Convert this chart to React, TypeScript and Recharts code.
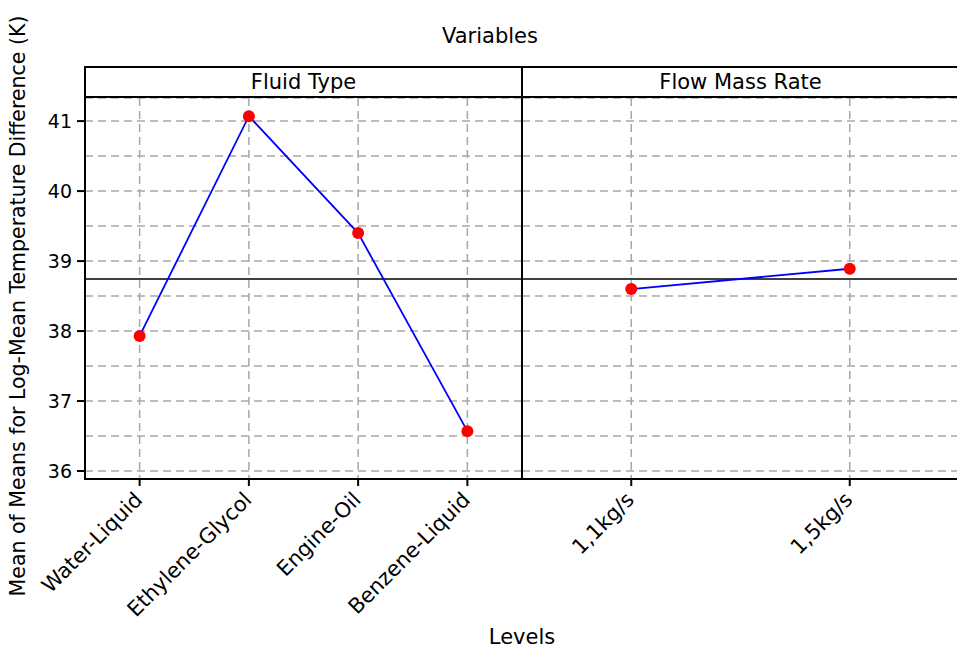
import React from "react";
import { CartesianGrid, Line, LineChart, ReferenceLine, XAxis, YAxis } from "recharts";

const fluidTypes = ["Water-Liquid", "Ethylene-Glycol", "Engine-Oil", "Benzene-Liquid"];
const fluidMeans = [37.93, 41.07, 39.4, 36.57];
const flowRates = ["1,1kg/s", "1,5kg/s"];
const flowMeans = [38.6, 38.89];
const majorTicks = [36, 37, 38, 39, 40, 41];
const minorTicks = [36.5, 37.5, 38.5, 39.5, 40.5];

const grandMean = fluidMeans.reduce((a, b) => a + b, 0) / fluidMeans.length;

const FONT = "DejaVu Sans, sans-serif";
const Y_DOMAIN = [35.886, 41.33];
const GRID = "#a8a8a8";

const fluidData = fluidTypes.map((name, i) => ({ idx: i + 1, name, mean: fluidMeans[i] }));
const flowData = flowRates.map((name, i) => ({ idx: i + 1, name, mean: flowMeans[i] }));

function AngledTick({ x, y, payload, labels }: any) {
  const label = labels[payload.value - 1];
  const ax = x + 4;
  const ay = y + 13;
  return (
    <text
      x={ax}
      y={ay}
      transform={`rotate(-45 ${ax} ${ay})`}
      textAnchor="end"
      fill="#000"
      fontSize={21}
      fontFamily={FONT}
    >
      {label}
    </text>
  );
}

function Panel({ data, labels, showY, width, left }: any) {
  const ticks = data.map((d: any) => d.idx);
  return (
    <div style={{ position: "absolute", left, top: 0 }}>
      <LineChart width={width} height={652} data={data} margin={{ top: 98, right: 0, left: 0, bottom: 0 }}>
        <CartesianGrid stroke={GRID} strokeDasharray="8 5" strokeWidth={1.5} />
        {minorTicks.map((v) => (
          <ReferenceLine key={v} y={v} stroke={GRID} strokeDasharray="8 5" strokeWidth={1.5} />
        ))}
        <XAxis
          type="number"
          dataKey="idx"
          domain={[0.5, data.length + 0.5]}
          ticks={ticks}
          interval={0}
          height={173}
          axisLine={false}
          tickLine={{ stroke: "#000", strokeWidth: 2 }}
          tickSize={7}
          tick={<AngledTick labels={labels} />}
        />
        <YAxis
          type="number"
          domain={Y_DOMAIN}
          ticks={majorTicks}
          allowDataOverflow
          hide={!showY}
          width={85}
          axisLine={false}
          tickLine={{ stroke: "#000", strokeWidth: 2 }}
          tickSize={8}
          tickMargin={5}
          tick={{ fill: "#000", fontSize: 19, fontFamily: FONT }}
        />
        <ReferenceLine y={grandMean} stroke="#000" strokeWidth={1.5} />
        <Line
          dataKey="mean"
          stroke="#0000ff"
          strokeWidth={1.8}
          dot={{ r: 6, fill: "#ff0000", stroke: "#ff0000", strokeWidth: 0 }}
          activeDot={false}
          isAnimationActive={false}
        />
      </LineChart>
    </div>
  );
}

const text: React.CSSProperties = {
  position: "absolute",
  fontFamily: FONT,
  fontSize: 21,
  color: "#000",
  whiteSpace: "nowrap",
  lineHeight: "24px",
};

export default function App() {
  return (
    <div
      style={{
        position: "absolute",
        left: 0,
        top: 0,
        width: 957,
        height: 652,
        overflow: "hidden",
        background: "#fff",
      }}
    >
      <Panel data={fluidData} labels={fluidTypes} showY width={522} left={0} />
      <Panel data={flowData} labels={flowRates} showY={false} width={437} left={522} />

      {/* facet frame and strip */}
      <div
        style={{
          position: "absolute",
          left: 84,
          top: 66,
          width: 880,
          height: 414,
          boxSizing: "border-box",
          border: "2px solid #000",
        }}
      />
      <div style={{ position: "absolute", left: 85, top: 96, width: 880, height: 2, background: "#000" }} />
      <div style={{ position: "absolute", left: 521, top: 67, width: 2, height: 412, background: "#000" }} />

      <div style={{ ...text, left: 85, width: 437, top: 70, textAlign: "center" }}>Fluid Type</div>
      <div style={{ ...text, left: 522, width: 437, top: 70, textAlign: "center" }}>Flow Mass Rate</div>
      <div style={{ ...text, left: 85, width: 810, top: 24, textAlign: "center" }}>Variables</div>
      <div style={{ ...text, left: 85, width: 874, top: 625, textAlign: "center" }}>Levels</div>
      <div
        style={{
          ...text,
          fontSize: 20.5,
          left: 18,
          top: 306,
          transform: "translate(-50%, -50%) rotate(-90deg)",
        }}
      >
        Mean of Means for Log-Mean Temperature Difference (K)
      </div>
    </div>
  );
}
